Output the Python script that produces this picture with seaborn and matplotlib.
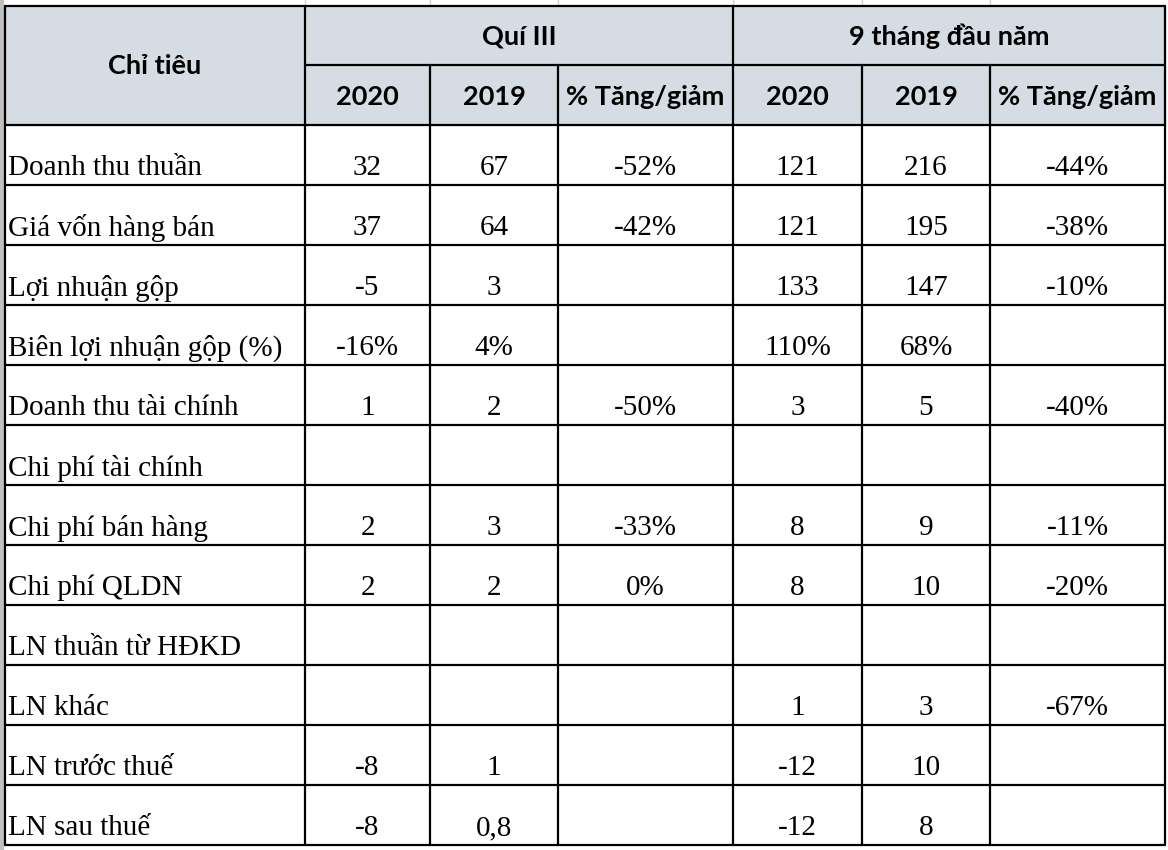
import pandas as pd
import matplotlib.pyplot as plt
import seaborn as sns

# table contents
chi_tieu = ["Doanh thu thuần", "Giá vốn hàng bán", "Lợi nhuận gộp", "Biên lợi nhuận gộp (%)",
            "Doanh thu tài chính", "Chi phí tài chính", "Chi phí bán hàng", "Chi phí QLDN",
            "LN thuần từ HĐKD", "LN khác", "LN trước thuế", "LN sau thuế"]
q3_2020 = ["32", "37", "-5", "-16%", "1", "", "2", "2", "", "", "-8", "-8"]
q3_2019 = ["67", "64", "3", "4%", "2", "", "3", "2", "", "", "1", "0,8"]
q3_pct = ["-52%", "-42%", "", "", "-50%", "", "-33%", "0%", "", "", "", ""]
m9_2020 = ["121", "121", "133", "110%", "3", "", "8", "8", "", "1", "-12", "-12"]
m9_2019 = ["216", "195", "147", "68%", "5", "", "9", "10", "", "3", "10", "8"]
m9_pct = ["-44%", "-38%", "-10%", "", "-40%", "", "-11%", "-20%", "", "-67%", "", ""]
groups = ["Quí III", "9 tháng đầu năm"]
sub_headers = ["2020", "2019", "% Tăng/giảm"]

df = pd.DataFrame({"Chỉ tiêu": chi_tieu, "q3_2020": q3_2020, "q3_2019": q3_2019, "q3_pct": q3_pct,
                   "m9_2020": m9_2020, "m9_2019": m9_2019, "m9_pct": m9_pct})

sns.set_theme(style="white")
fig = plt.figure(figsize=(11.68, 8.5), dpi=100)
ax = fig.add_axes([0, 0, 1, 1])
ax.set_xlim(0, 1168)
ax.set_ylim(850, 0)
ax.axis("off")

xs = [5, 305, 430, 558, 733, 862, 990, 1165]
top, mid, hbot, rh = 6, 65, 125, 60
bottom = hbot + rh * len(df)

# faint excel grid outside table
for x in [305, 430, 558, 733, 862, 990]:
    ax.plot([x, x], [0, top], color="#d0d0d0", lw=1)
ax.plot([0, 0], [0, 850], color="#c0c0c0", lw=6)

hdr_font = dict(family="Lato", fontweight="bold", fontsize=19.5, color="black")
body_font = dict(family="Liberation Serif", fontsize=21, color="black")

ax.add_patch(plt.Rectangle((xs[0], top), xs[-1] - xs[0], hbot - top, color="#d6dce4", zorder=0))
ax.text((xs[0] + xs[1]) / 2, 66, "Chỉ tiêu", ha="center", va="center", **hdr_font)
for g, (a, b) in zip(groups, [(1, 4), (4, 7)]):
    ax.text((xs[a] + xs[b]) / 2, 36, g, ha="center", va="center", **hdr_font)
    for j, s in enumerate(sub_headers):
        ax.text((xs[a + j] + xs[a + j + 1]) / 2, 97, s, ha="center", va="center", **hdr_font)

cols = df.columns
for i, row in df.iterrows():
    y = hbot + rh * (i + 1) - 17
    ax.text(xs[0] + 3, y, row[cols[0]], ha="left", va="center", **body_font)
    for j, c in enumerate(cols[1:], start=1):
        ax.text((xs[j] + xs[j + 1]) / 2, y, row[c], ha="center", va="center", **body_font)

# borders
lw = 1.6
for y in [top, hbot, bottom] + [hbot + rh * k for k in range(1, len(df))]:
    ax.plot([xs[0], xs[-1]], [y, y], color="black", lw=lw)
ax.plot([xs[1], xs[-1]], [mid, mid], color="black", lw=lw)
for k, x in enumerate(xs):
    y0 = mid if k in (2, 3, 5, 6) else top
    ax.plot([x, x], [y0, bottom], color="black", lw=lw)

fig.savefig("out.png", dpi=100)
